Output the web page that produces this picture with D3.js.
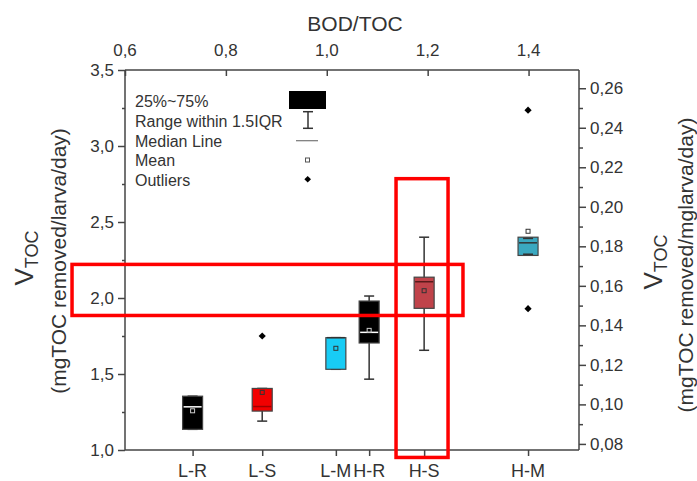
<!DOCTYPE html>
<html lang="en">
<head>
    <meta charset="UTF-8">
    <title>VTOC box plot</title>
    <style>
        body {
            margin: 0;
            padding: 0;
            background: #ffffff;
        }
        svg text {
            font-family: 'Liberation Sans', Arial, sans-serif;
            fill: #333;
        }
        .axis path, .axis line {
            stroke: #444;
            stroke-width: 1.5px;
        }
    </style>
</head>
<body>
<div id="chart"></div>

<script src="https://d3js.org/d3.v7.min.js"></script>
<script>
  // categories and their BOD/TOC position on the top axis
  const categories = ["L-R", "L-S", "L-M", "H-R", "H-S", "H-M"];
  const bodToc = [0.734, 0.872, 1.018, 1.084, 1.193, 1.399];

  // box statistics (mgTOC removed/larva/day)
  const q1 = [1.136, 1.256, 1.531, 1.704, 1.932, 2.280];
  const q3 = [1.354, 1.405, 1.739, 1.980, 2.137, 2.400];
  const medians = [1.284, 1.286, 1.739, 1.774, 2.107, 2.363];
  const means = [1.258, 1.379, 1.669, 1.787, 2.048, 2.439];
  const whiskerLow = [1.136, 1.190, 1.531, 1.466, 1.656, 2.288];
  const whiskerHigh = [1.354, 1.405, 1.739, 2.013, 2.400, 2.392];
  const outliers = [[], [1.75], [], [], [], [1.93, 3.236]];
  const boxColors = ["#000000", "#f20000", "#18ccf5", "#000000", "#c0434a", "#3aa8c0"];
  const medianColors = ["#ffffff", "#a00000", "#333333", "#ffffff", "#5a1a1a", "#333333"];

  // axis ticks
  const leftTicks = [1.0, 1.5, 2.0, 2.5, 3.0, 3.5];
  const rightTicks = [0.08, 0.10, 0.12, 0.14, 0.16, 0.18, 0.20, 0.22, 0.24, 0.26];
  const topTicks = [0.6, 0.8, 1.0, 1.2, 1.4];

  // legend entries
  const legendLabels = ["25%~75%", "Range within 1.5IQR", "Median Line", "Mean", "Outliers"];

  // red highlight frames, in data units (BOD/TOC, VTOC)
  const highlightH = { x0: 0.495, x1: 1.27, y0: 1.885, y1: 2.221 };
  const highlightV = { x0: 1.1373, x1: 1.2404, y0: 0.951, y1: 2.785 };

  const width = 697, height = 481;
  const plotL = 125, plotR = 579, plotT = 70, plotB = 450;
  const fmt = d3.format(".1f");
  const fmt2 = d3.format(".2f");
  const comma = s => s.replace(".", ",");

  const svg = d3.select("#chart").append("svg")
    .attr("width", width)
    .attr("height", height);

  const x = d3.scaleLinear().domain([0.6, 1.5]).range([plotL, plotR]);
  const y = d3.scaleLinear().domain([1.0, 3.5]).range([plotB, plotT]);
  const yRight = d3.scaleLinear().domain([1.0 / 13, 3.5 / 13]).range([plotB, plotT]);

  // frame lines
  svg.append("g").attr("class", "axis")
    .attr("transform", `translate(0,${plotT})`)
    .call(d3.axisBottom(x).tickValues(topTicks).tickSize(6).tickFormat(""))
    .call(g => g.select(".domain").attr("d", `M${plotL},0H${plotR}`));

  svg.append("g").attr("class", "axis")
    .attr("transform", `translate(0,${plotB})`)
    .call(d3.axisBottom(x).tickValues(bodToc).tickSize(6).tickFormat(""))
    .call(g => g.select(".domain").attr("d", `M${plotL},0H${plotR}`));

  // left axis with minor ticks
  svg.append("g").attr("class", "axis")
    .attr("transform", `translate(${plotL},0)`)
    .call(d3.axisLeft(y).tickValues(d3.range(1.25, 3.5, 0.5)).tickSize(3).tickFormat(""))
    .call(g => g.select(".domain").remove());
  svg.append("g").attr("class", "axis")
    .attr("transform", `translate(${plotL},0)`)
    .call(d3.axisLeft(y).tickValues(leftTicks).tickSize(7).tickPadding(4).tickFormat(d => comma(fmt(d))))
    .call(g => g.select(".domain").attr("d", `M0,${plotT}V${plotB}`))
    .call(g => g.selectAll("text").style("font-size", "17px").attr("fill", "#333"));

  // right axis with minor ticks
  svg.append("g").attr("class", "axis")
    .attr("transform", `translate(${plotR},0)`)
    .call(d3.axisRight(yRight).tickValues(d3.range(0.09, 0.27, 0.02)).tickSize(4).tickFormat(""))
    .call(g => g.select(".domain").remove());
  svg.append("g").attr("class", "axis")
    .attr("transform", `translate(${plotR},0)`)
    .call(d3.axisRight(yRight).tickValues(rightTicks).tickSize(7).tickPadding(4).tickFormat(d => comma(fmt2(d))))
    .call(g => g.select(".domain").attr("d", `M0,${plotT}V${plotB}`))
    .call(g => g.selectAll("text").style("font-size", "17px").attr("fill", "#333"));

  // top tick labels and title
  svg.append("g").selectAll("text").data(topTicks).join("text")
    .attr("x", d => x(d))
    .attr("y", 56)
    .attr("text-anchor", "middle")
    .style("font-size", "17px")
    .text(d => comma(fmt(d)));

  svg.append("text")
    .attr("x", 355).attr("y", 31)
    .attr("text-anchor", "middle")
    .style("font-size", "21px")
    .text("BOD/TOC");

  // category labels
  svg.append("g").selectAll("text").data(categories).join("text")
    .attr("x", (d, i) => x(bodToc[i]))
    .attr("y", 477)
    .attr("text-anchor", "middle")
    .style("font-size", "18px")
    .text(d => d);

  // axis titles
  function yTitle(cx, cy, cx2, second) {
    const t = svg.append("text")
      .attr("transform", `translate(${cx},${cy}) rotate(-90)`)
      .attr("text-anchor", "middle");
    t.append("tspan").style("font-size", "26px").text("V");
    t.append("tspan").style("font-size", "18px").attr("dy", 5).text("TOC");
    svg.append("text")
      .attr("transform", `translate(${cx2},${cy + 3}) rotate(-90)`)
      .attr("text-anchor", "middle")
      .style("font-size", "21px")
      .text(second);
  }
  yTitle(33, 258, 66, "(mgTOC removed/larva/day)");
  yTitle(662, 262, 693, "(mgTOC removed/mglarva/day)");

  // boxes
  const boxW = 20, capW = 10;
  const idx = d3.range(categories.length);
  const boxes = svg.append("g").selectAll("g").data(idx).join("g");

  boxes.append("line")
    .attr("x1", i => x(bodToc[i])).attr("x2", i => x(bodToc[i]))
    .attr("y1", i => y(whiskerLow[i])).attr("y2", i => y(whiskerHigh[i]))
    .attr("stroke", "#333").attr("stroke-width", 1.5);
  [whiskerLow, whiskerHigh].forEach(w => {
    boxes.append("line")
      .attr("x1", i => x(bodToc[i]) - capW / 2).attr("x2", i => x(bodToc[i]) + capW / 2)
      .attr("y1", i => y(w[i])).attr("y2", i => y(w[i]))
      .attr("stroke", "#333").attr("stroke-width", 1.5);
  });

  boxes.append("rect")
    .attr("x", i => x(bodToc[i]) - boxW / 2)
    .attr("y", i => y(q3[i]))
    .attr("width", boxW)
    .attr("height", i => y(q1[i]) - y(q3[i]))
    .attr("fill", i => boxColors[i])
    .attr("stroke", "#444").attr("stroke-width", 1.2);

  // caps that sit inside the H-M box show through
  boxes.filter(i => categories[i] === "H-M").each(function (i) {
    [whiskerLow[i], whiskerHigh[i]].forEach(v => {
      d3.select(this).append("line")
        .attr("x1", x(bodToc[i]) - capW / 2).attr("x2", x(bodToc[i]) + capW / 2)
        .attr("y1", y(v)).attr("y2", y(v))
        .attr("stroke", "#333").attr("stroke-width", 1.5);
    });
  });

  boxes.append("line")
    .attr("x1", i => x(bodToc[i]) - boxW / 2 + 1).attr("x2", i => x(bodToc[i]) + boxW / 2 - 1)
    .attr("y1", i => y(medians[i])).attr("y2", i => y(medians[i]))
    .attr("stroke", i => medianColors[i]).attr("stroke-width", 1.5);

  boxes.append("rect")
    .attr("x", i => x(bodToc[i]) - 2)
    .attr("y", i => y(means[i]) - 2)
    .attr("width", 4).attr("height", 4)
    .attr("fill", "none")
    .attr("stroke", i => boxColors[i] === "#000000" ? "#ccc" : "#333")
    .attr("stroke-width", 1);

  const outlierPts = idx.flatMap(i => outliers[i].map(v => [bodToc[i], v]));
  svg.append("g").selectAll("path").data(outlierPts).join("path")
    .attr("transform", d => `translate(${x(d[0])},${y(d[1])}) rotate(45)`)
    .attr("d", d3.symbol().type(d3.symbolSquare).size(26))
    .attr("fill", "#000");

  // legend
  const lg = svg.append("g").attr("transform", "translate(135,0)");
  lg.selectAll("text").data(legendLabels).join("text")
    .attr("x", 0)
    .attr("y", (d, i) => 107 + i * 19.8)
    .style("font-size", "16px")
    .attr("fill", "#222")
    .text(d => d);
  lg.append("rect").attr("x", 154).attr("y", 91).attr("width", 37).attr("height", 18).attr("fill", "#000");
  lg.append("line").attr("x1", 173).attr("x2", 173).attr("y1", 111).attr("y2", 128.5).attr("stroke", "#333").attr("stroke-width", 1.5);
  lg.append("line").attr("x1", 168).attr("x2", 178).attr("y1", 111.7).attr("y2", 111.7).attr("stroke", "#333").attr("stroke-width", 1.5);
  lg.append("line").attr("x1", 168).attr("x2", 178).attr("y1", 128.3).attr("y2", 128.3).attr("stroke", "#333").attr("stroke-width", 1.5);
  lg.append("line").attr("x1", 161).attr("x2", 183).attr("y1", 140.7).attr("y2", 140.7).attr("stroke", "#777").attr("stroke-width", 1.2);
  lg.append("rect").attr("x", 170.5).attr("y", 158).attr("width", 4).attr("height", 4).attr("fill", "none").attr("stroke", "#555").attr("stroke-width", 1);
  lg.append("path").attr("transform", "translate(172.7,179.3) rotate(45)")
    .attr("d", d3.symbol().type(d3.symbolSquare).size(22)).attr("fill", "#000");

  // red highlight frames
  [highlightH, highlightV].forEach(h => {
    svg.append("rect")
      .attr("x", x(h.x0)).attr("y", y(h.y1))
      .attr("width", x(h.x1) - x(h.x0))
      .attr("height", y(h.y0) - y(h.y1))
      .attr("fill", "none")
      .attr("stroke", "#ff0000")
      .attr("stroke-width", 3.5);
  });
</script>
</body>
</html>
